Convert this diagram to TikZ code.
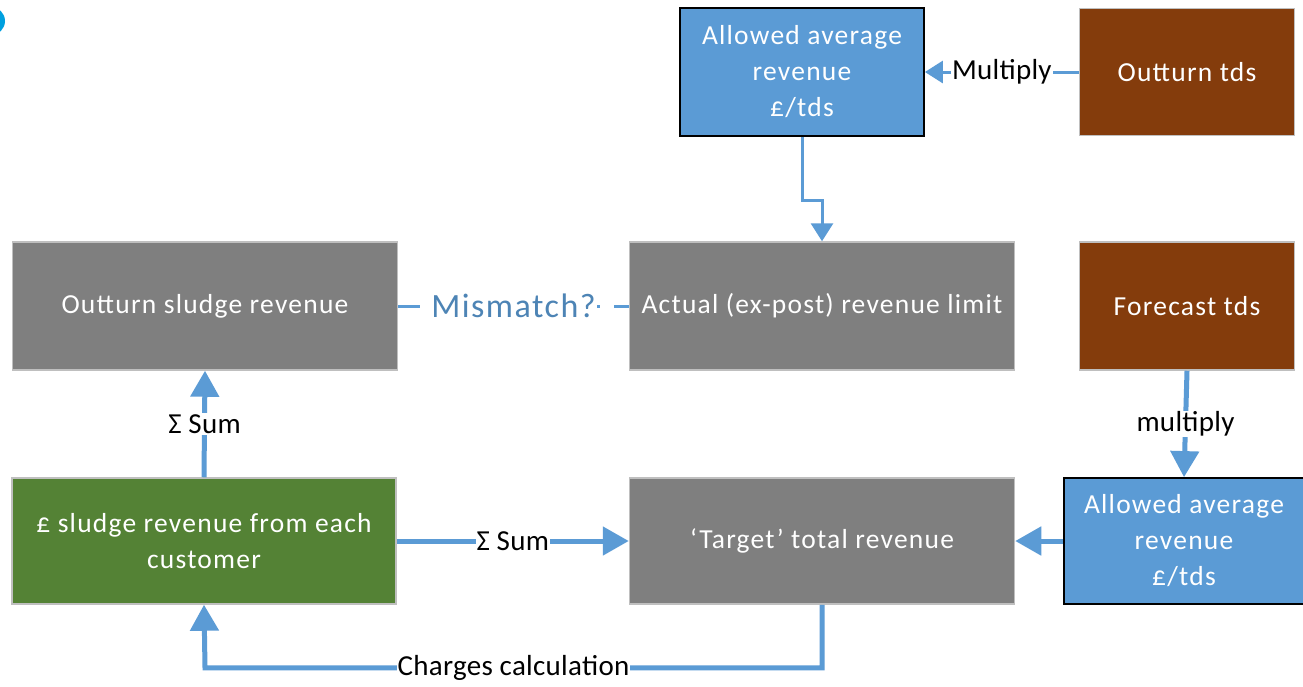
\documentclass[tikz,border=0pt]{standalone}
\usepackage{fontspec}
\setmainfont{Carlito}
\newfontfamily\boxfont[LetterSpace=4.5]{Carlito}
\newfontfamily\tagfont[LetterSpace=1]{Carlito}
\usetikzlibrary{arrows.meta,calc}
\definecolor{lineblue}{HTML}{5B9BD5}
\definecolor{boxblue}{HTML}{5B9BD5}
\definecolor{boxgrey}{HTML}{7F7F7F}
\definecolor{boxbrown}{HTML}{843C0C}
\definecolor{boxgreen}{HTML}{548235}
\definecolor{edgegrey}{HTML}{BFBFBF}
\definecolor{dotblue}{HTML}{00A0DF}
\tikzset{
  card/.style={rectangle, draw=edgegrey, line width=1.5pt, text=white,
    font=\boxfont\fontsize{27.5}{36}\selectfont, align=center, inner sep=4pt},
  greycard/.style={card, fill=boxgrey, minimum width=385pt, minimum height=128pt},
  browncard/.style={card, fill=boxbrown, minimum width=215pt, minimum height=127pt},
  greencard/.style={card, fill=boxgreen, minimum width=384pt, minimum height=126pt},
  bluecard/.style={card, fill=boxblue, draw=black, line width=1.8pt},
  thinlink/.style={draw=lineblue, line width=3pt,
    -{Triangle[width=22pt,length=18pt]}},
  thicklink/.style={draw=lineblue, line width=5pt,
    -{Triangle[width=28pt,length=26pt]}},
  tag/.style={fill=white, inner sep=1pt, text=black, font=\tagfont\fontsize{29}{32}\selectfont},
}
\begin{document}
\begin{tikzpicture}[x=1pt,y=-1pt]
\useasboundingbox (0,0) rectangle (1303,686);
\fill[white] (0,0) rectangle (1303,686);
% corner marker
\fill[dotblue] (-9,21) circle (14);

% boxes
\node[bluecard, minimum width=244pt, minimum height=128pt] (avgtop) at (802,72)
  {Allowed average\\revenue\\£/tds};
\node[browncard] (outtds) at (1187,72) {Outturn tds};
\node[greycard] (sludge) at (205,306) {Outturn sludge revenue};
\node[greycard] (limit) at (822,306) {Actual (ex-post) revenue limit};
\node[browncard, minimum height=128pt] (fctds) at (1187,306) {Forecast tds};
\node[greencard] (cust) at (204,541) {£ sludge revenue from each\\customer};
\node[greycard, minimum height=126pt] (target) at (822,541) {‘Target’ total revenue};
\node[bluecard, minimum width=240pt, minimum height=126pt] (avgbot) at (1184,541)
  {Allowed average\\revenue\\£/tds};

% connectors
\draw[thinlink] (outtds.west) -- node[tag] {Multiply} (avgtop.east);
\draw[thinlink] (avgtop.south) -- ++(0,64) -| (limit.north);
\draw[draw=lineblue, line width=3pt, dash pattern=on 22pt off 14pt]
  (sludge.east) -- node[fill=white, inner sep=1pt, text=lineblue!85!black,
    font=\boxfont\fontsize{34}{36}\selectfont] {Mismatch?} (limit.west);
\draw[thicklink] (fctds.south) -- node[tag] {multiply} (avgbot.north);
\draw[thicklink] (avgbot.west) -- (target.east);
\draw[thicklink] (cust.east) -- node[tag] {Σ Sum} (target.west);
\draw[thicklink] (cust.north) -- node[tag] {Σ Sum} (sludge.south);
\draw[thicklink] (target.south) |- node[tag, pos=0.75] {Charges calculation} ++(-617,63) -- (cust.south);
\end{tikzpicture}
\end{document}
